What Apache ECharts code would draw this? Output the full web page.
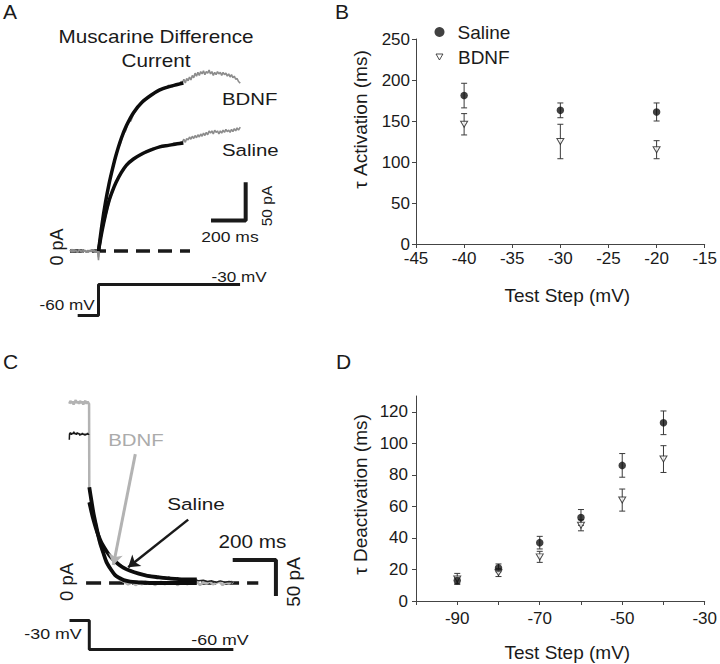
<!DOCTYPE html>
<html>
<head>
<meta charset="utf-8">
<script src="https://cdn.jsdelivr.net/npm/echarts@6.0.0/dist/echarts.min.js"></script>
<style>
  html, body { margin: 0; padding: 0; background: #fff; }
  #chart { width: 720px; height: 664px; }
</style>
</head>
<body>
<div id="chart"></div>
<script>
// ---- panel A: muscarine difference current, [time ms, current pA] ----
const aBdnfTrace = [[-163,1],[-150,-1],[-140,2],[-130,0],[-120,-2],[-110,1],[-100,-1],[-90,2],[-80,0],[-70,-2],[-60,1],[-50,-1],[-40,2],[-30,0],[-20,-2],[-10,1],[-4,-3],[0,-12],[4,2],
  [10,18],[20,36],[35,58],[50,78],[65,95],[80,110],[95,121],[110,134],[125,141],[140,153],[155,158],[170,170],[185,171],[200,180],[220,187],[240,193],[260,197],[280,201],[300,205],[320,207],[340,211],[360,213],[380,214],[400,218],[420,216],[440,220],[460,219],[472,223],
  [480,222],[488,226],[496,221],[504,227],[512,224],[520,229],[528,225],[536,231],[544,228],[552,234],[560,230],[568,235],[576,231],[584,236],[592,233],[600,237],[608,232],[616,236],[624,234],[632,238],[640,233],[648,236],[656,231],[664,235],[672,232],[680,236],[688,233],[696,235],[704,231],[712,235],[720,232],[728,234],[736,230],[744,233],[752,229],[760,232],[768,228],[776,230],[784,226],[792,227],[800,223],[810,221]];
const aSalineTrace = [[-163,0],[-150,2],[-140,-1],[-130,1],[-120,-1],[-110,2],[-100,0],[-90,-2],[-80,1],[-70,0],[-60,-2],[-50,1],[-40,-1],[-30,2],[-20,0],[-10,-2],[-4,1],[0,-8],[4,1],
  [15,18],[30,35],[50,54],[70,71],[90,84],[110,95],[130,104],[150,110],[170,115],[190,119],[210,122],[230,126],[250,127],[270,131],[290,132],[310,135],[330,135],[350,138],[370,137],[390,140],[410,139],[430,142],[450,141],[470,143],
  [480,144],[488,147],[496,143],[504,148],[512,146],[520,150],[528,147],[536,151],[544,148],[552,152],[560,149],[568,153],[576,150],[584,154],[592,151],[600,155],[608,152],[616,156],[624,153],[632,158],[640,155],[648,158],[656,154],[664,159],[672,156],[680,158],[688,154],[696,158],[704,155],[712,159],[720,156],[728,160],[736,157],[744,159],[752,156],[760,160],[768,157],[776,161],[784,158],[792,162],[800,159],[810,163]];
const aBdnfFit = [[0,0],[20,35],[40,64],[60,88],[80,108],[100,126],[130,148],[160,165],[200,182],[250,196],[300,205],[350,212],[400,216],[450,219],[485,221]];
const aSalineFit = [[0,0],[20,26],[40,48],[60,66],[80,79],[100,90],[130,103],[160,113],[200,121],[250,128],[300,133],[350,137],[400,139],[450,141],[485,142]];
// voltage protocol A, [time ms, mV]
const aVoltage = [[-119,-60],[0,-60],[0,-30],[809,-30]];

// ---- panel B: tau activation ----
const bSteps = [-40, -30, -20];
const bSaline = [181, 163, 161];
const bSalineErr = [15, 9, 11];
const bBdnf = [146, 125, 115];
const bBdnfErr = [13, 21, 11];

// ---- panel C: deactivation tails, [time ms, current pA] ----
const cBdnfTrace = [[-93,249],[-88,253],[-83,250],[-78,252],[-73,248],[-68,251],[-63,254],[-58,250],[-53,252],[-48,249],[-43,253],[-38,250],[-33,252],[-28,248],[-23,251],[-18,253],[-13,249],[-8,252],[-4,250],[-1,249],
  [0,133],[10,112],[20,95],[35,71],[50,54],[65,41],[80,29],[100,18],[120,10],[140,5],[160,2],[180,-2],[200,1],[215,-3],[230,0],[245,-2],[260,2],[275,-1],[290,1],[305,-3],[320,0],[335,2],[350,-2],[365,1],[380,-1],[395,2],[410,-3],[425,0],[440,2],[455,-2],[470,1],[485,-1],[500,2],[515,-3],[530,1],[545,-1],[560,2],[575,-2],[590,0],[605,2],[620,-3],[635,1],[650,-1],[660,2],[670,0]];
const cSalinePre = [[-93,199],[-92,207],[-88,209],[-84,206],[-80,208],[-76,207],[-72,210],[-68,207],[-64,208],[-60,206],[-56,209],[-52,207],[-48,208],[-44,205],[-40,207],[-36,206],[-32,208],[-28,206],[-24,207],[-20,205],[-16,207],[-12,206],[-8,208],[-4,206],[-2,207]];
const cSalineTrace = [[0,112],[15,93],[30,78],[50,61],[70,49],[90,40],[110,33],[130,28],[150,24],[170,20],[190,18],[210,15],[230,14],[250,12],[270,11],[290,10],[300,8],[310,10],[320,7],[330,9],[340,7],[350,8],[360,6],[370,8],[380,6],[390,7],[400,5],[410,7],[420,5],[430,6],[440,4],[450,6],[460,4],[470,5],[480,3],[490,5],[500,4],
  [510,3],[530,4],[550,2],[570,3],[590,1],[610,3],[630,1],[650,2],[670,1]];
const cBdnfFit = [[0,133],[10,114],[20,96],[30,82],[40,68],[50,56],[65,42],[80,29],[100,19],[120,11],[140,7],[160,4],[190,2],[230,1],[280,0],[350,0],[420,0],[500,0]];
const cSalineFit = [[0,112],[10,99],[20,87],[30,77],[40,68],[55,57],[70,49],[85,42],[100,36],[120,30],[140,25],[160,21],[190,17],[230,13],[270,10],[320,8],[380,6],[440,5],[500,5]];
const cVoltage = [[-92,-30],[0,-30],[0,-60],[670,-60]];

// ---- panel D: tau deactivation ----
const dSteps = [-90, -80, -70, -60, -50, -40];
const dSaline = [13, 21, 37, 53, 86, 113];
const dSalineErr = [2, 2.5, 4, 5, 7.5, 7.5];
const dBdnf = [14, 18, 28, 48, 64, 90];
const dBdnfErr = [3.5, 2.5, 3.5, 3.5, 7, 8.5];
const dYTicks = [0, 20, 40, 60, 80, 100, 120];
const dXLabels = [-90, -70, -50, -30];

const FONT = 'Liberation Sans, Arial, sans-serif';
const INK = '#1a1a1a';
const AXIS = '#444';
const DOWN_TRIANGLE = 'path://M0,0 L10,0 L5,8.66 Z';

const chart = echarts.init(document.getElementById('chart'), null, { renderer: 'svg' });

function hiddenX(g) { return { gridIndex: g, type: 'value', min: -200, max: 900, show: false }; }
function hiddenY(g, min, max) { return { gridIndex: g, type: 'value', min: min, max: max, show: false }; }

function trace(data, idx, color, width, extra) {
    return Object.assign({
        type: 'line', xAxisIndex: idx, yAxisIndex: idx, data: data,
        symbol: 'none', silent: true, animation: false,
        lineStyle: { color: color, width: width }
    }, extra || {});
}

function errorBars(steps, mean, err, idx) {
    return {
        type: 'custom', xAxisIndex: idx, yAxisIndex: idx, silent: true, animation: false,
        data: steps.map((s, i) => [s, mean[i] - err[i], mean[i] + err[i]]),
        renderItem: function (params, api) {
            const top = api.coord([api.value(0), api.value(2)]);
            const bot = api.coord([api.value(0), api.value(1)]);
            const w = 3;
            const style = { stroke: '#3a3a3a', lineWidth: 1 };
            return {
                type: 'group', children: [
                    { type: 'line', shape: { x1: top[0], y1: top[1], x2: bot[0], y2: bot[1] }, style: style },
                    { type: 'line', shape: { x1: top[0] - w, y1: top[1], x2: top[0] + w, y2: top[1] }, style: style },
                    { type: 'line', shape: { x1: bot[0] - w, y1: bot[1], x2: bot[0] + w, y2: bot[1] }, style: style }
                ]
            };
        }
    };
}

function salineDots(steps, vals, idx) {
    return {
        name: 'Saline', type: 'scatter', xAxisIndex: idx, yAxisIndex: idx, animation: false,
        data: steps.map((s, i) => [s, vals[i]]),
        symbol: 'circle', symbolSize: 7.5,
        itemStyle: { color: '#111' }
    };
}
function bdnfDots(steps, vals, idx) {
    return {
        name: 'BDNF', type: 'scatter', xAxisIndex: idx, yAxisIndex: idx, animation: false,
        data: steps.map((s, i) => [s, vals[i]]),
        symbol: DOWN_TRIANGLE, symbolSize: [7, 6],
        itemStyle: { color: '#fff', borderColor: '#222', borderWidth: 1 }
    };
}

function txt(text, x, y, size, opts) {
    opts = opts || {};
    const el = {
        type: 'text', x: x, y: y, silent: true,
        style: {
            text: text, fontSize: size, fontFamily: FONT, fill: opts.color || INK,
            align: opts.align || 'center', textAlign: opts.align || 'center',
            verticalAlign: 'middle', textVerticalAlign: 'middle'
        }
    };
    if (opts.rot) el.rotation = Math.PI / 2;
    if (opts.sx) el.scaleX = opts.sx;
    return el;
}

const axisText = { fontSize: 17, color: INK, fontFamily: FONT, lineHeight: 13 };
const legendText = (pad) => ({ fontSize: 19, color: INK, padding: [0, 0, 0, pad] });

const option = {
    animation: false,
    backgroundColor: '#fff',
    textStyle: { fontFamily: FONT },
    legend: [
        {
            data: ['Saline'], left: 429.5, top: 17.5, itemWidth: 10, itemHeight: 10,
            selectedMode: false, textStyle: legendText(8)
        },
        {
            data: [{ name: 'BDNF', icon: DOWN_TRIANGLE, itemStyle: { color: '#fff', borderColor: '#222', borderWidth: 1 } }],
            left: 430.5, top: 42.5, itemWidth: 7, itemHeight: 6,
            selectedMode: false, textStyle: legendText(10)
        }
    ],
    grid: [
        { left: 63.5, top: 23, width: 192.5, height: 266 },     // A traces
        { left: 63.5, top: 269, width: 192.5, height: 62 },     // A voltage
        { left: 416, top: 39, width: 292, height: 205 },        // B
        { left: 46.3, top: 367, width: 236.5, height: 252 },    // C traces
        { left: 46.3, top: 606, width: 236.5, height: 58.7 },   // C voltage
        { left: 416, top: 396, width: 293, height: 205 }        // D
    ],
    xAxis: [
        hiddenX(0), hiddenX(1),
        {
            gridIndex: 2, type: 'value', min: -45, max: -15, interval: 5,
            name: 'Test Step (mV)', nameLocation: 'middle', nameGap: 42,
            nameTextStyle: { fontSize: 19, color: INK, padding: [0, 0, 0, 14] },
            axisLine: { onZero: false, lineStyle: { color: AXIS } },
            axisTick: { length: 4, lineStyle: { color: AXIS } },
            axisLabel: Object.assign({ margin: 8 }, axisText),
            splitLine: { show: false }
        },
        hiddenX(3), hiddenX(4),
        {
            gridIndex: 5, type: 'value', min: -100, max: -30, interval: 10,
            name: 'Test Step (mV)', nameLocation: 'middle', nameGap: 42,
            nameTextStyle: { fontSize: 19, color: INK, padding: [0, 0, 0, 14] },
            axisLine: { onZero: false, lineStyle: { color: AXIS } },
            axisTick: { length: 4, lineStyle: { color: AXIS } },
            axisLabel: Object.assign({
                margin: 11,
                formatter: v => (dXLabels.indexOf(v) >= 0 ? String(v) : '')
            }, axisText),
            splitLine: { show: false }
        }
    ],
    yAxis: [
        hiddenY(0, -50, 300), hiddenY(1, -75, -15),
        {
            gridIndex: 2, type: 'value', min: 0, max: 250, interval: 50,
            name: 'τ Activation (ms)', nameLocation: 'middle', nameGap: 46,
            nameTextStyle: { fontSize: 19, color: INK, padding: [0, 0, 0, 44] },
            axisLine: { show: true, onZero: false, lineStyle: { color: AXIS } },
            axisTick: { show: true, length: 4, lineStyle: { color: AXIS } },
            axisLabel: Object.assign({ margin: 6 }, axisText),
            splitLine: { show: false }
        },
        hiddenY(3, -50, 300), hiddenY(4, -75, -15),
        {
            gridIndex: 5, type: 'value', min: 0, max: 130,
            name: 'τ Deactivation (ms)', nameLocation: 'middle', nameGap: 46,
            nameTextStyle: { fontSize: 19, color: INK, padding: [0, 0, 0, 8] },
            axisLine: { show: true, onZero: false, lineStyle: { color: AXIS } },
            axisTick: { show: true, length: 4, customValues: dYTicks, lineStyle: { color: AXIS } },
            axisLabel: Object.assign({ margin: 8, customValues: dYTicks }, axisText),
            splitLine: { show: false }
        }
    ],
    series: [
        // A
        trace([[-163, 0], [523, 0]], 0, INK, 3.5, { lineStyle: { color: INK, width: 3.5, type: [14, 8] } }),
        trace(aSalineTrace, 0, '#8c8c8c', 1.6),
        trace(aBdnfTrace, 0, '#8c8c8c', 1.6),
        trace(aSalineFit, 0, '#0d0d0d', 3.5, { smooth: 0.3 }),
        trace(aBdnfFit, 0, '#0d0d0d', 3.5, { smooth: 0.3 }),
        trace([[643, 40], [841, 40], [841, 90.5]], 0, INK, 4),
        trace(aVoltage, 1, INK, 3),
        // B
        errorBars(bSteps, bSaline, bSalineErr, 2),
        errorBars(bSteps, bBdnf, bBdnfErr, 2),
        salineDots(bSteps, bSaline, 2),
        bdnfDots(bSteps, bBdnf, 2),
        // C
        trace([[-15, 0], [786, 0]], 3, INK, 3.5, { lineStyle: { color: INK, width: 3.5, type: [15, 8] } }),
        trace(cBdnfTrace, 3, '#b3b3b3', 2.5),
        trace(cSalinePre, 3, INK, 1.5),
        trace(cSalineTrace, 3, '#222', 1.5),
        trace(cBdnfFit, 3, '#0d0d0d', 3.8, { smooth: 0.3 }),
        trace(cSalineFit, 3, '#0d0d0d', 3.8, { smooth: 0.3 }),
        trace([[667, 32], [868, 32], [868, -18]], 3, INK, 4, {
            markLine: {
                silent: true, animation: false, symbol: ['none', 'arrow'], symbolSize: 11,
                label: { show: false },
                data: [
                    [{ coord: [214, 179], lineStyle: { color: '#b3b3b3', width: 3, type: 'solid' } },
                     { coord: [112, 25], lineStyle: { color: '#b3b3b3', width: 3, type: 'solid' } }],
                    [{ coord: [460, 88], lineStyle: { color: INK, width: 2.5, type: 'solid' } },
                     { coord: [181, 22], lineStyle: { color: INK, width: 2.5, type: 'solid' } }]
                ]
            }
        }),
        trace(cVoltage, 4, INK, 3),
        // D
        errorBars(dSteps, dSaline, dSalineErr, 5),
        errorBars(dSteps, dBdnf, dBdnfErr, 5),
        bdnfDots(dSteps, dBdnf, 5),
        salineDots(dSteps, dSaline, 5)
    ],
    graphic: [
        txt('A', 3, 11, 21, { align: 'left' }),
        txt('Muscarine Difference', 156, 37, 18, { sx: 1.15 }),
        txt('Current', 156, 61, 18, { sx: 1.15 }),
        txt('BDNF', 222, 99, 17, { align: 'left', sx: 1.2 }),
        txt('Saline', 222, 150, 17, { align: 'left', sx: 1.2 }),
        txt('200 ms', 230, 237, 15.5, { sx: 1.13 }),
        txt('50 pA', 266, 206, 15.5, { rot: true }),
        txt('0 pA', 57, 247, 18, { rot: true }),
        txt('-30 mV', 239, 277, 14.5, { sx: 1.18 }),
        txt('-60 mV', 67, 305, 14.5, { sx: 1.18 }),
        txt('B', 335, 11, 21, { align: 'left' }),
        txt('C', 3, 361, 21, { align: 'left' }),
        txt('BDNF', 136, 440, 17, { color: '#ababab', sx: 1.2 }),
        txt('Saline', 196, 504, 17, { sx: 1.22 }),
        txt('200 ms', 252.5, 542, 18, { sx: 1.15 }),
        txt('50 pA', 293, 582, 19, { rot: true }),
        txt('0 pA', 66, 582, 18.5, { rot: true }),
        txt('-30 mV', 53, 634, 15.5, { sx: 1.15 }),
        txt('-60 mV', 220, 640, 15.5, { sx: 1.15 }),
        txt('D', 336, 361, 21, { align: 'left' })
    ]
};

chart.setOption(option);
</script>
</body>
</html>
